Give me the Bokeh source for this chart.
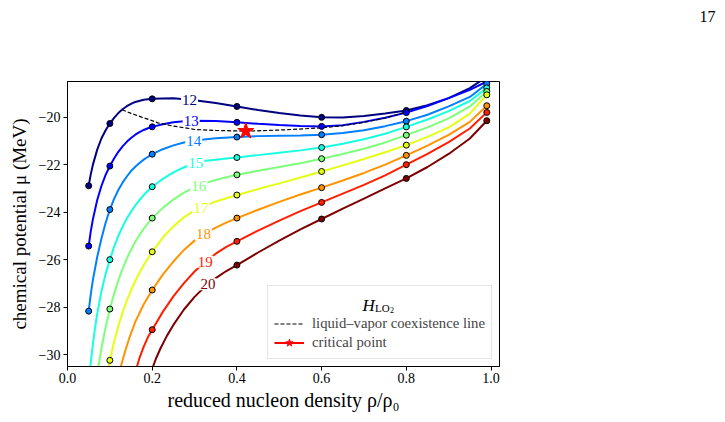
import numpy as np
from bokeh.plotting import figure
from bokeh.models import Label, Legend, LegendItem, FixedTicker, Title
from bokeh.embed import file_html
from bokeh.resources import INLINE

# ---------------- data ----------------
temps = ["12", "13", "14", "15", "16", "17", "18", "19", "20"]
colors = ["#000080", "#0000ff", "#0080ff", "#16ffe1", "#7dff7a",
          "#e4ff13", "#ff9400", "#ff1e00", "#7f0000"]

right_rho = [0.45, 0.5, 0.55, 0.6, 0.65, 0.7, 0.75, 0.8, 0.85, 0.9, 0.95, 0.99]

rho_12 = [0.05, 0.055, 0.06, 0.07, 0.08, 0.09, 0.1, 0.11, 0.12, 0.13, 0.14, 0.15,
          0.16, 0.18, 0.2, 0.25, 0.3, 0.35, 0.4] + right_rho
mu_12 = [-22.89, -22.4, -22.0, -21.38, -20.9, -20.55, -20.27, -20.03, -19.83, -19.67,
         -19.54, -19.44, -19.36, -19.27, -19.23, -19.21, -19.29, -19.41, -19.55,
         -19.7, -19.83, -19.93, -20.01, -20.02, -19.95, -19.85, -19.72, -19.5, -19.2,
         -18.78, -18.3]

rho_13 = [0.05, 0.055, 0.06, 0.07, 0.08, 0.09, 0.1, 0.11, 0.12, 0.13, 0.14, 0.15,
          0.16, 0.17, 0.18, 0.19, 0.2, 0.225, 0.25, 0.275, 0.3, 0.35, 0.4] + right_rho
mu_13 = [-25.43, -24.8, -24.3, -23.5, -22.9, -22.43, -22.06, -21.74, -21.46, -21.23,
         -21.04, -20.88, -20.74, -20.63, -20.54, -20.47, -20.41, -20.3, -20.22, -20.17,
         -20.15, -20.16, -20.22,
         -20.28, -20.33, -20.37, -20.39, -20.34, -20.2, -20.03, -19.81, -19.53, -19.2,
         -18.85, -18.5]

rho_14 = [0.05, 0.055, 0.06, 0.07, 0.08, 0.09, 0.1, 0.11, 0.12, 0.13, 0.14, 0.15,
          0.16, 0.17, 0.18, 0.19, 0.2, 0.225, 0.25, 0.275, 0.3, 0.35, 0.4] + right_rho
mu_14 = [-28.17, -27.45, -26.85, -25.9, -25.12, -24.45, -23.89, -23.44, -23.07, -22.76,
         -22.5, -22.27, -22.09, -21.93, -21.79, -21.67, -21.56, -21.35, -21.19, -21.07,
         -20.98, -20.89, -20.84,
         -20.8, -20.78, -20.77, -20.74, -20.67, -20.55, -20.38, -20.17, -19.9, -19.55,
         -19.15, -18.6]

rho_15 = [0.054, 0.058, 0.064, 0.07, 0.08, 0.09, 0.1, 0.11, 0.12, 0.13, 0.14, 0.15,
          0.16, 0.17, 0.18, 0.19, 0.2, 0.225, 0.25, 0.275, 0.3, 0.325, 0.35, 0.375,
          0.4] + right_rho
mu_15 = [-30.5, -29.85, -29.0, -28.3, -27.35, -26.6, -26.0, -25.46, -25.0, -24.61,
         -24.27, -23.98, -23.72, -23.49, -23.28, -23.1, -22.93, -22.6, -22.33, -22.11,
         -21.95, -21.84, -21.79, -21.745, -21.7,
         -21.6, -21.5, -21.4, -21.28, -21.12, -20.93, -20.7, -20.41, -20.1, -19.75,
         -19.32, -18.77]

rho_16 = [0.073, 0.08, 0.09, 0.1, 0.11, 0.12, 0.13, 0.14, 0.15, 0.16, 0.17, 0.18,
          0.19, 0.2, 0.225, 0.25, 0.275, 0.3, 0.325, 0.35, 0.375, 0.4] + right_rho
mu_16 = [-30.5, -29.75, -28.85, -28.08, -27.44, -26.88, -26.39, -25.96, -25.58, -25.25,
         -24.96, -24.7, -24.46, -24.25, -23.82, -23.47, -23.18, -22.95, -22.78, -22.65,
         -22.53, -22.43,
         -22.26, -22.1, -21.94, -21.75, -21.55, -21.33, -21.07, -20.76, -20.43, -20.05,
         -19.55, -18.92]

rho_17 = [0.097, 0.1, 0.11, 0.12, 0.13, 0.14, 0.15, 0.16, 0.17, 0.18, 0.19, 0.2,
          0.225, 0.25, 0.275, 0.3, 0.35, 0.4] + right_rho
mu_17 = [-30.5, -30.24, -29.46, -28.8, -28.23, -27.73, -27.29, -26.9, -26.55, -26.23,
         -25.94, -25.67, -25.07, -24.6, -24.22, -23.93, -23.55, -23.28,
         -23.03, -22.79, -22.54, -22.29, -22.03, -21.76, -21.48, -21.18, -20.83, -20.43,
         -19.85, -19.06]

rho_18 = [0.126, 0.135, 0.145, 0.16, 0.18, 0.2, 0.225, 0.25, 0.275, 0.3, 0.325, 0.35,
          0.375, 0.4] + right_rho
mu_18 = [-30.5, -29.92, -29.35, -28.62, -27.88, -27.28, -26.63, -26.08, -25.59, -25.2,
         -24.89, -24.65, -24.44, -24.25,
         -23.9, -23.57, -23.26, -22.97, -22.67, -22.35, -22.0, -21.61, -21.2, -20.75,
         -20.2, -19.52]

rho_19 = [0.164, 0.17, 0.18, 0.19, 0.2, 0.225, 0.25, 0.275, 0.3, 0.325, 0.35, 0.375,
          0.4] + right_rho
mu_19 = [-30.5, -30.14, -29.66, -29.26, -28.95, -28.2, -27.55, -26.99, -26.5, -26.09,
         -25.75, -25.46, -25.23,
         -24.78, -24.36, -23.96, -23.59, -23.22, -22.85, -22.45, -22.0, -21.55, -21.05,
         -20.48, -19.8]

rho_20 = [0.202, 0.21, 0.22, 0.235, 0.25, 0.275, 0.3, 0.325, 0.35, 0.375,
          0.4] + right_rho
mu_20 = [-30.5, -30.12, -29.72, -29.2, -28.75, -28.1, -27.57, -27.13, -26.78, -26.48,
         -26.23,
         -25.7, -25.2, -24.73, -24.29, -23.85, -23.43, -23.0, -22.58, -22.1, -21.55,
         -20.9, -20.15]

marker_rho = [0.05, 0.1, 0.2, 0.4, 0.6, 0.8, 0.99]

coex_rho = [0.129, 0.15, 0.175, 0.2, 0.213, 0.25, 0.282, 0.3, 0.35, 0.421,
            0.46, 0.52, 0.6, 0.65, 0.7, 0.75, 0.795]
coex_mu = [-19.69, -19.84, -20.0, -20.15, -20.24, -20.38, -20.46, -20.52, -20.56,
           -20.59, -20.57, -20.53, -20.45, -20.36, -20.22, -20.04, -19.8]

crit_rho = [0.421]
crit_mu = [-20.59]

label_rho = [0.288, 0.292, 0.298, 0.303, 0.31, 0.315, 0.321, 0.325, 0.332]

x_ticks = [0.0, 0.2, 0.4, 0.6, 0.8, 1.0]
x_tick_labels = ["0.0", "0.2", "0.4", "0.6", "0.8", "1.0"]
y_ticks = [-30, -28, -26, -24, -22, -20]
y_tick_labels = ["\u221230", "\u221228", "\u221226", "\u221224", "\u221222", "\u221220"]

curves_rho = [rho_12, rho_13, rho_14, rho_15, rho_16, rho_17, rho_18, rho_19, rho_20]
curves_mu = [mu_12, mu_13, mu_14, mu_15, mu_16, mu_17, mu_18, mu_19, mu_20]

# ---------------- figure ----------------
FONT = "Liberation Serif"
X_MIN, X_MAX = 0.0, 1.02
Y_MIN, Y_MAX = -30.5, -18.5

p = figure(width=725, height=422, x_range=(X_MIN, X_MAX), y_range=(Y_MIN, Y_MAX),
           output_backend="svg", toolbar_location=None,
           min_border_left=67, min_border_right=226,
           min_border_top=81, min_border_bottom=56)

# page number (outer title) and an empty spacer title next to the frame
p.title.text = "17"
p.title.align = "right"
p.title.offset = -216
p.title.standoff = 10
p.title.vertical_align = "top"
p.title.text_font = FONT
p.title.text_font_size = "16px"
p.title.text_font_style = "normal"
p.title.text_color = "black"
p.add_layout(Title(text="\u00a0", standoff=34, text_font=FONT,
                   text_font_size="16px"), "above")

p.xgrid.visible = False
p.ygrid.visible = False
p.outline_line_color = "black"
p.outline_line_width = 1
p.outline_line_alpha = 1.0
p.background_fill_color = "white"
p.border_fill_color = "white"

for ax in (p.xaxis[0], p.yaxis[0]):
    ax.minor_tick_line_color = None
    ax.major_tick_in = 0
    ax.major_tick_out = 4
    ax.major_tick_line_color = "black"
    ax.axis_line_color = "black"
    ax.major_label_text_font = FONT
    ax.major_label_text_font_size = "14px"
    ax.major_label_text_color = "black"
    ax.axis_label_text_font = FONT
    ax.axis_label_text_font_style = "normal"
    ax.axis_label_text_color = "black"

p.xaxis.axis_label_text_font_size = "20px"
p.yaxis.axis_label_text_font_size = "19px"
p.xaxis.ticker = FixedTicker(ticks=x_ticks)
p.xaxis.major_label_overrides = {t: s for t, s in zip(x_ticks, x_tick_labels)}
p.yaxis.ticker = FixedTicker(ticks=y_ticks)
p.yaxis.major_label_overrides = {t: s for t, s in zip(y_ticks, y_tick_labels)}
p.xaxis.major_label_standoff = 2
p.yaxis.major_label_standoff = 3
p.xaxis.axis_label_standoff = 3
p.yaxis.axis_label_standoff = 6
p.xaxis.axis_label = "reduced nucleon density \u03c1/\u03c1\u2080"
p.yaxis.axis_label = "chemical potential \u03bc (MeV)"

# curves
for rho, mu, c in zip(curves_rho, curves_mu, colors):
    p.line(rho, mu, line_color=c, line_width=2)

# coexistence line & critical point
coex_r = p.line(coex_rho, coex_mu, line_color="black", line_width=1.2, line_dash="4 2")
crit_line = p.line(crit_rho, crit_mu, line_color="red", line_width=2)
crit_star = p.scatter(crit_rho, crit_mu, marker="star", size=17,
                      fill_color="red", line_color="red")

# markers
for rho, mu, c in zip(curves_rho, curves_mu, colors):
    mx, my = [], []
    for r, m in zip(rho, mu):
        if r in marker_rho and m > Y_MIN:
            mx.append(r)
            my.append(m)
    p.scatter(mx, my, size=6, fill_color=c, line_color="black", line_width=1)

# inline labels
for t, lr, rho, mu, c in zip(temps, label_rho, curves_rho, curves_mu, colors):
    ly = float(np.interp(lr, rho, mu))
    p.add_layout(Label(x=lr, y=ly, text=t, text_color=c, text_font=FONT,
                       text_font_size="15px", text_align="center",
                       text_baseline="middle", background_fill_color="white",
                       padding=1))

# legend (transparent fill: nothing lies behind it)
legend = Legend(items=[LegendItem(label="liquid\u2013vapor coexistence line", renderers=[coex_r]),
                       LegendItem(label="critical point", renderers=[crit_line, crit_star])],
                location=(200, 7), title="\u00a0",
                title_text_font_size="17px", title_text_font=FONT, title_standoff=2,
                label_text_font=FONT, label_text_font_size="14.7px",
                padding=6, spacing=0, margin=0,
                glyph_width=30, glyph_height=19, label_height=19, label_standoff=8,
                border_line_color="#cccccc", border_line_width=1,
                background_fill_alpha=0.0)
p.add_layout(legend)

# legend title H_LO2 (screen units, relative to frame)
p.add_layout(Label(x=295, y=61.5, x_units="screen", y_units="screen", text="H",
                   text_font=FONT, text_font_style="italic", text_font_size="17px",
                   text_baseline="alphabetic", text_align="left", text_color="black",
                   level="overlay"))
p.add_layout(Label(x=307.5, y=58.3, x_units="screen", y_units="screen", text="LO",
                   text_font=FONT, text_font_size="11px",
                   text_baseline="alphabetic", text_align="left", text_color="black",
                   level="overlay"))
p.add_layout(Label(x=322.5, y=56.5, x_units="screen", y_units="screen", text="2",
                   text_font=FONT, text_font_size="8px",
                   text_baseline="alphabetic", text_align="left", text_color="black",
                   level="overlay"))

open("out.html", "w").write(file_html(p, INLINE))
